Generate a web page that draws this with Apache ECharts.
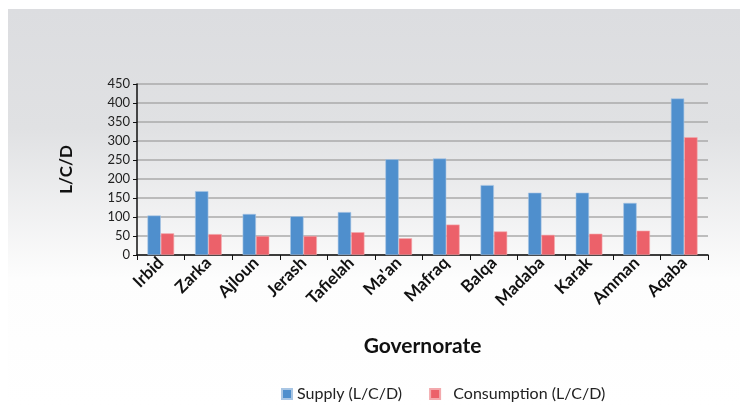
<!DOCTYPE html>
<html><head><meta charset="utf-8">
<script src="https://cdn.jsdelivr.net/npm/echarts@6/dist/echarts.min.js"></script>
<style>html,body{margin:0;padding:0;background:#fff}#c{width:740px;height:406px}</style>
</head><body><div id="c"></div>
<script>
var categories = ['Irbid','Zarka','Ajloun','Jerash','Tafielah',"Ma'an",'Mafraq','Balqa','Madaba','Karak','Amman','Aqaba'];
var supply = [104,168,108,102,113,252,254,184,164,164,137,412];
var consumption = [57,55,50,50,60,44,80,62,53,56,64,310];
var yTicks = [0,50,100,150,200,250,300,350,400,450];

var chart = echarts.init(document.getElementById('c'));
var font = 'Lato, "Open Sans", sans-serif';
chart.setOption({
  animation:false,
  textStyle:{fontFamily:font},
  graphic:[{type:'rect',z:-10,silent:true,shape:{x:8,y:9,width:732,height:397},
    style:{fill:new echarts.graphic.LinearGradient(0,0,0,1,[
      {offset:0,color:'#dcdde0'},{offset:0.3,color:'#e0e1e3'},{offset:0.68,color:'#fdfdfd'},{offset:1,color:'#ffffff'}])}}],
  grid:{left:137,right:32,top:84,bottom:151},
  legend:{top:384,left:276,itemWidth:10,itemHeight:10,itemGap:27,icon:'rect',padding:[2,5,2,5],
    textStyle:{fontSize:16,color:'#222',fontFamily:font},
    data:['Supply (L/C/D)','Consumption (L/C/D)'],
    formatter:function(n){return n.indexOf('Cons')===0?'  '+n:n;}},
  xAxis:{type:'category',data:categories,
    name:'Governorate',nameLocation:'middle',nameGap:81,
    nameTextStyle:{fontSize:21,fontWeight:'bold',color:'#111',fontFamily:font},
    axisLine:{lineStyle:{color:'#111',width:1.5}},
    axisTick:{show:true,length:5,lineStyle:{color:'#111'}},
    axisLabel:{rotate:45,fontSize:17,fontWeight:'bold',color:'#111',margin:5,interval:0}},
  yAxis:{type:'value',min:0,max:450,interval:50,
    name:'L/C/D',nameLocation:'middle',nameGap:62,nameRotate:90,
    nameTextStyle:{fontSize:17,fontWeight:'bold',color:'#111',fontFamily:font},
    axisLine:{show:true,lineStyle:{color:'#111',width:1.5}},
    axisTick:{show:true,length:4,lineStyle:{color:'#111'}},
    axisLabel:{fontSize:13,color:'#222',margin:7,formatter:function(v){return yTicks.indexOf(v)>=0?String(v):'';}},
    splitLine:{lineStyle:{color:'#aaaaaa',width:1.5}}},
  series:[
    {name:'Supply (L/C/D)',type:'bar',data:supply,barGap:'0%',barCategoryGap:'44%',
      itemStyle:{color:'#4f8fcd',borderColor:'#a9c6e4',borderWidth:0.6}},
    {name:'Consumption (L/C/D)',type:'bar',data:consumption,
      itemStyle:{color:'#ec616a',borderColor:'#f3a9ad',borderWidth:0.6}}
  ]
});
</script></body></html>
